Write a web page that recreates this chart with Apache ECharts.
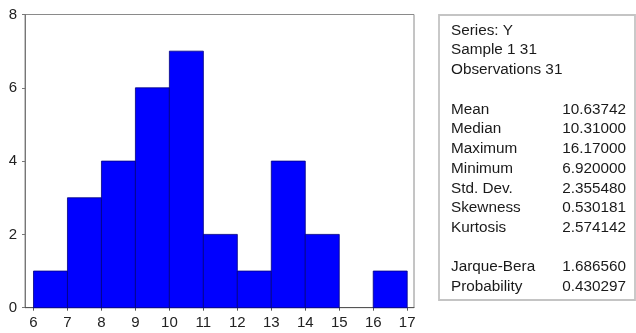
<!DOCTYPE html>
<html>
<head>
<meta charset="utf-8">
<script src="https://cdn.jsdelivr.net/npm/echarts@6/dist/echarts.min.js"></script>
<style>
  html, body { margin: 0; padding: 0; background: #fff; }
  #chart { width: 636px; height: 333px; }
</style>
</head>
<body>
<div id="chart"></div>
<script>
// Histogram bins: left edge of each unit-wide bin and its count
var binStarts = [6, 7, 8, 9, 10, 11, 12, 13, 14, 15, 16];
var binCounts = [1, 3, 4, 6, 7, 2, 1, 4, 2, 0, 1];
var binWidth = 1;

// Axis ticks
var xTicks = [6, 7, 8, 9, 10, 11, 12, 13, 14, 15, 16, 17];
var yTicks = [0, 2, 4, 6, 8];

// Descriptive statistics panel
var headerLines = ['Series: Y', 'Sample 1 31', 'Observations 31'];
var statNames = ['Mean', 'Median', 'Maximum', 'Minimum', 'Std. Dev.', 'Skewness', 'Kurtosis'];
var statValues = ['10.63742', '10.31000', '16.17000', '6.920000', '2.355480', '0.530181', '2.574142'];
var testNames = ['Jarque-Bera', 'Probability'];
var testValues = ['1.686560', '0.430297'];

var FONT = '"Liberation Sans", Arial, sans-serif';
var TEXT_COLOR = '#1a1a1a';

var histData = binStarts.map(function (s, i) { return [s, s + binWidth, binCounts[i]]; });

// Statistics panel text rows
var rowTop = 30.5, rowStep = 19.73, labelX = 451, valueX = 626;
var rows = [];
headerLines.forEach(function (t) { rows.push([t, '']); });
rows.push(null);
statNames.forEach(function (t, i) { rows.push([t, statValues[i]]); });
rows.push(null);
testNames.forEach(function (t, i) { rows.push([t, testValues[i]]); });

var panel = [{
  type: 'rect',
  shape: { x: 439, y: 15, width: 196, height: 285 },
  style: { fill: '#fff', stroke: '#c4c4c4', lineWidth: 1.8 }
}];
rows.forEach(function (r, k) {
  if (!r) return;
  var y = rowTop + k * rowStep;
  panel.push({
    type: 'text', x: labelX, y: y,
    style: { text: r[0], fill: TEXT_COLOR, font: '15.3px ' + FONT, textAlign: 'left', textVerticalAlign: 'middle' }
  });
  if (r[1]) {
    panel.push({
      type: 'text', x: valueX, y: y,
      style: { text: r[1], fill: TEXT_COLOR, font: '15.3px ' + FONT, textAlign: 'right', textVerticalAlign: 'middle' }
    });
  }
});

var chart = echarts.init(document.getElementById('chart'), null, { renderer: 'canvas' });
chart.setOption({
  animation: false,
  backgroundColor: '#fff',
  grid: {
    left: 25, right: 222, top: 14.5, bottom: 25.3,
    show: true, borderColor: '#8a8a8a', borderWidth: 1, backgroundColor: 'transparent'
  },
  xAxis: {
    type: 'value',
    min: 5.75, max: 17.2,
    splitLine: { show: false },
    axisLine: { show: true, lineStyle: { color: '#555', width: 1 } },
    axisTick: { show: true, length: 3, customValues: xTicks, lineStyle: { color: '#555' } },
    axisLabel: { customValues: xTicks, color: '#222', fontSize: 15, fontFamily: FONT, margin: 8 }
  },
  yAxis: {
    type: 'value',
    min: 0, max: 8, interval: 2,
    splitLine: { show: false },
    axisLine: { show: true, lineStyle: { color: '#777', width: 1 } },
    axisTick: { show: true, length: 3, lineStyle: { color: '#777' } },
    axisLabel: { color: '#222', fontSize: 15, fontFamily: FONT, margin: 8 }
  },
  series: [{
    type: 'custom',
    data: histData,
    encode: { x: [0, 1], y: 2 },
    renderItem: function (params, api) {
      if (!api.value(2)) return { type: 'group', children: [] };
      var p0 = api.coord([api.value(0), 0]);
      var p1 = api.coord([api.value(1), api.value(2)]);
      return {
        type: 'rect',
        shape: { x: p0[0], y: p1[1], width: p1[0] - p0[0], height: p0[1] - p1[1] },
        style: { fill: '#0000ff', stroke: '#000080', lineWidth: 0.8 }
      };
    }
  }],
  graphic: panel
});
</script>
</body>
</html>
